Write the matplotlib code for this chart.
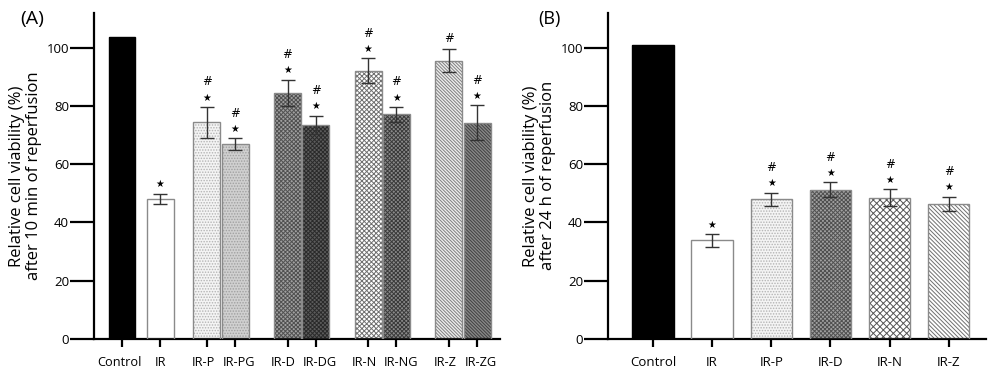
import matplotlib
matplotlib.use("Agg")
import matplotlib.pyplot as plt

plt.rcParams['font.family'] = ['Open Sans', 'DejaVu Sans']
plt.rcParams['hatch.linewidth'] = 0.7

# panel A data (10 min of reperfusion)
groups_a = ['Control', 'IR', 'IR-P', 'IR-PG', 'IR-D', 'IR-DG', 'IR-N', 'IR-NG', 'IR-Z', 'IR-ZG']
means_a = [103.6, 48.2, 74.4, 66.9, 84.5, 73.5, 92.1, 77.1, 95.6, 74.3]
errs_a = [0, 1.7, 5.3, 2.1, 4.5, 3.2, 4.2, 2.6, 3.8, 6.0]
marks_a = ['', '*', '#*', '#*', '#*', '#*', '#*', '#*', '#', '#*']

# panel B data (24 h of reperfusion)
groups_b = ['Control', 'IR', 'IR-P', 'IR-D', 'IR-N', 'IR-Z']
means_b = [100.9, 33.9, 48.0, 51.2, 48.5, 46.4]
errs_b = [0, 2.2, 2.2, 2.6, 2.9, 2.5]
marks_b = ['', '*', '#*', '#*', '#*', '#*']

# fill style per group: facecolor, hatch, hatch colour
styles = {
    'Control': ('black', None, 'black'),
    'IR': ('white', None, 'white'),
    'IR-P': ('#f4f4f4', '......', '#b4b4b4'),
    'IR-PG': ('#d0d0d0', '......', '#a0a0a0'),
    'IR-D': ('#a0a0a0', 'xxxxxxxx', '#505050'),
    'IR-DG': ('#5c5c5c', 'xxxxxxxx', '#2a2a2a'),
    'IR-N': ('white', 'xxxxxxx', '#707070'),
    'IR-NG': ('#8a8a8a', 'xxxxxxxx', '#3a3a3a'),
    'IR-Z': ('#eeeeee', '\\' * 10, '#808080'),
    'IR-ZG': ('#888888', '\\' * 10, '#404040'),
}
styles_b = dict(styles)
styles_b['IR-N'] = ('white', 'xxxxx', '#555555')
styles_b['IR-Z'] = ('white', '\\' * 8, '#707070')


def draw_panel(ax, groups, means, errs, marks, pos, width, xlim, ylabel, sty, fs, shifts):
    for x, g, m, e, mk in zip(pos, groups, means, errs, marks):
        fc, hatch, hc = sty[g]
        ax.bar(x, m, width, color=fc, hatch=hatch, edgecolor=hc, linewidth=0, zorder=2)
        ec = 'black' if g == 'Control' else '#8a8a8a'
        ax.bar(x, m, width, fill=False, edgecolor=ec, linewidth=1.0, zorder=3)
        if e > 0:
            ax.errorbar(x, m, yerr=e, color='#333333', capsize=5, elinewidth=1.0,
                        capthick=1.0, zorder=4)
        top = m + e + 1.5
        if '*' in mk:
            ax.text(x, top, '\u2605', ha='center', va='bottom', fontsize=7,
                    family=['DejaVu Sans'], zorder=5)
            top += 4.8
        if '#' in mk:
            ax.text(x, top, '#', ha='center', va='bottom', fontsize=8.5,
                    family=['DejaVu Sans'], zorder=5)

    ax.set_xlim(*xlim)
    ax.set_ylim(0, 112)
    ax.set_yticks([0, 20, 40, 60, 80, 100])
    ax.set_xticks(pos)
    ax.set_xticklabels([])
    # group names drawn by hand so paired labels can be nudged apart
    for x, g, dx in zip(pos, groups, shifts):
        ax.annotate(g, (x, 0), xycoords=('data', 'axes fraction'), xytext=(dx, -12),
                    textcoords='offset points', ha='center', va='top', fontsize=fs)
    ax.tick_params(axis='y', length=17, width=1.6, labelsize=9.5, pad=1)
    ax.tick_params(axis='x', length=6, width=1.6)
    for s in ['top', 'right']:
        ax.spines[s].set_visible(False)
    for s in ['left', 'bottom']:
        ax.spines[s].set_linewidth(1.6)
    ax.set_ylabel(ylabel, fontsize=12, linespacing=1.1, labelpad=3)
    return ax


fig = plt.figure(figsize=(10, 3.75), dpi=100)

ax_a = fig.add_axes([0.094, 0.096, 0.406, 0.87])
pos_a = [0, 1.35, 3.0, 4.0, 5.85, 6.85, 8.7, 9.7, 11.55, 12.55]
draw_panel(ax_a, groups_a, means_a, errs_a, marks_a, pos_a, 0.95, (-0.99, 13.36),
           'Relative cell viability (%)\nafter 10 min of reperfusion', styles, 9.2,
           [-1.5, 0, -2.5, 2.5, -3, 3, -3, 3, -2.5, 2.5])
fig.text(0.02, 0.935, '(A)', fontsize=14)

ax_b = fig.add_axes([0.608, 0.096, 0.378, 0.87])
pos_b = [0, 1, 2, 3, 4, 5]
draw_panel(ax_b, groups_b, means_b, errs_b, marks_b, pos_b, 0.70, (-0.76, 5.63),
           'Relative cell viability (%)\nafter 24 h of reperfusion', styles_b, 9.5,
           [0] * 6)
fig.text(0.538, 0.935, '(B)', fontsize=13)

fig.savefig('out.png', dpi=100)
